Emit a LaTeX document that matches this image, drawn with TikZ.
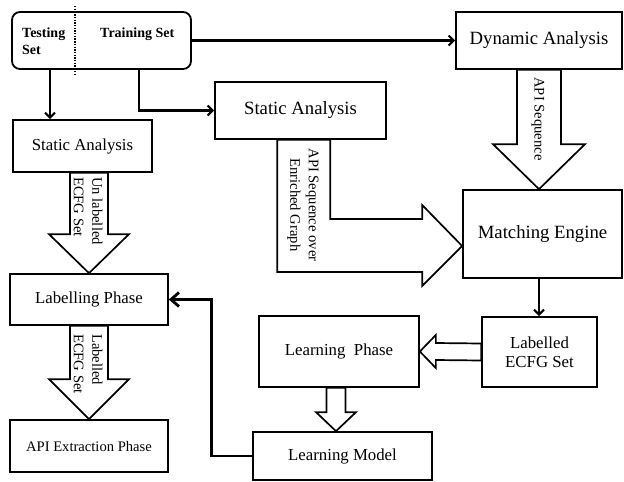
\documentclass[tikz,border=0pt]{standalone}
\usepackage{fontspec}
\setmainfont{Liberation Serif}
\usetikzlibrary{arrows.meta,calc}

\newcommand\fbig{\fontsize{18.7}{22}\selectfont}
\newcommand\fmid{\fontsize{16.8}{19.5}\selectfont}
\newcommand\fsml{\fontsize{14.6}{18.5}\selectfont}
\newcommand\fhead{\fontsize{14}{17}\selectfont\bfseries}

\begin{document}
\begin{tikzpicture}[x=1pt,y=-1pt,
  box/.style={draw, line width=1.7pt, inner sep=0pt, align=center, fill=white},
  arr/.style={-{Straight Barb[length=5pt,width=10pt]}, line width=2.1pt},
  fback/.style={-{Straight Barb[length=8pt,width=14pt]}, line width=2.8pt},
  fat/.style={draw, line width=1.7pt, fill=white, line join=miter},
  lbl/.style={inner sep=0pt, font=\fsml, rotate=-90}
]
\useasboundingbox (0,0) rectangle (624,482);

% data sets
\node[draw, line width=1.8pt, rounded corners=8pt, minimum width=179pt, minimum height=57pt, inner sep=0pt] (sets) at (101.5,40.5) {};
\node[anchor=base west, inner sep=0pt, font=\fhead, align=left] (testing) at (22,54) {Testing\\[0pt]Set};
\node[anchor=base west, inner sep=0pt, font=\fhead] (training) at (100,37) {Training Set};
\draw[line width=1.8pt, dash pattern=on 1.4pt off 1.3pt] (75,6) -- (75,75);

% processing boxes
\node[box, minimum width=139pt, minimum height=52pt, font=\fmid] (sa1) at (82.5,146) {Static Analysis};
\node[box, minimum width=171pt, minimum height=57pt, font=\fbig] (sa2) at (300.5,110.5) {Static Analysis};
\node[box, minimum width=166pt, minimum height=57pt, font=\fbig] (dyn) at (539,40.5) {Dynamic Analysis};
\node[box, minimum width=159pt, minimum height=88pt, font=\fbig] (me) at (542.5,234) {Matching Engine};
\node[box, minimum width=115pt, minimum height=70pt, font=\fmid] (lab) at (539.5,352) {Labelled\\[-1pt]ECFG Set};
\node[box, minimum width=160pt, minimum height=71pt, font=\fmid] (lp) at (339,351.5) {Learning\ \ Phase};
\node[box, minimum width=179pt, minimum height=48pt, font=\fmid] (lm) at (342.5,456) {Learning Model};
\node[box, minimum width=158pt, minimum height=51pt, font=\fmid] (lph) at (89,299.5) {Labelling Phase};
\node[box, minimum width=158pt, minimum height=52pt, font=\fsml] (api) at (89,446) {API Extraction Phase};

% thin connectors
\coordinate (c1) at (50,0);
\coordinate (c2) at (139,0);
\coordinate (c3) at (539,0);
\draw[arr] (sets.south -| c1) -- (sa1.north -| c1);
\draw[arr] (sets.south -| c2) |- (sa2.west);
\draw[arr] (sets.east) -- (dyn.west);
\draw[arr] (me.south -| c3) -- (lab.north -| c3);
\draw[fback] (lm.west) -| ($(lph.east)+(43,0)$) -- (lph.east);

% block arrow: dynamic analysis -> matching engine
\coordinate (t1) at (me.north -| dyn.south);
\draw[fat] ($(dyn.south)+(-22,0)$) -- ($(t1)+(-22,-45)$) -- ($(t1)+(-46,-45)$) -- (t1)
  -- ($(t1)+(46,-45)$) -- ($(t1)+(22,-45)$) -- ($(dyn.south)+(22,0)$) -- cycle;
\node[lbl] (apiseq) at (538,119) {API Sequence};

% block arrow: static analysis -> labelling phase
\coordinate (t2) at (lph.north);
\draw[fat] ($(sa1.south -| t2)+(-19,0)$) -- ($(t2)+(-19,-39)$) -- ($(t2)+(-40,-39)$) -- (t2)
  -- ($(t2)+(40,-39)$) -- ($(t2)+(19,-39)$) -- ($(sa1.south -| t2)+(19,0)$) -- cycle;
\node[lbl, align=left] (unlab) at (88,211) {Un labelled\\ECFG Set};

% block arrow: labelling phase -> API extraction
\coordinate (t3) at (api.north);
\draw[fat] ($(lph.south)+(-19,0)$) -- ($(t3)+(-19,-40)$) -- ($(t3)+(-40,-40)$) -- (t3)
  -- ($(t3)+(40,-40)$) -- ($(t3)+(19,-40)$) -- ($(lph.south)+(19,0)$) -- cycle;
\node[lbl, align=left] (labset) at (88,364) {Labelled\\ECFG Set};

% block arrow: labelled set -> learning phase
\coordinate (t4) at (lp.east);
\draw[fat] ($(lab.west)+(0,-8.5)$) -- ($(t4)+(16,-8.5)$) -- ($(t4)+(16,-16.5)$) -- (t4)
  -- ($(t4)+(16,16.5)$) -- ($(t4)+(16,8.5)$) -- ($(lab.west)+(0,8.5)$) -- cycle;

% block arrow: learning phase -> learning model
\coordinate (s5) at ($(lp.south)+(-3,0)$);
\coordinate (t5) at (lm.north -| s5);
\draw[fat] ($(s5)+(-9.5,0)$) -- ($(t5)+(-9.5,-19)$) -- ($(t5)+(-20,-19)$) -- (t5)
  -- ($(t5)+(20,-19)$) -- ($(t5)+(9.5,-19)$) -- ($(s5)+(9.5,0)$) -- cycle;

% bent block arrow: static analysis -> matching engine
\coordinate (T) at ($(me.west)+(0,12)$);
\coordinate (o) at ($(sa2.south west)+(63,0)$);
\coordinate (i) at ($(sa2.south west)+(116,0)$);
\coordinate (hb) at ($(T)+(-40,0)$);
\coordinate (lo) at ($(T)+(0,26)$);
\coordinate (up) at ($(T)+(0,-27)$);
\coordinate (htop) at ($(T)+(-40,-41)$);
\coordinate (hbot) at ($(T)+(-40,40)$);
\draw[fat] (o) -- (o |- lo) -- (hb |- lo) -- (hbot) -- (T) -- (htop) -- (hb |- up)
  -- (i |- up) -- (i) -- cycle;
\node[lbl, align=center] (seqgraph) at (303,205) {API Sequence over\\Enriched Graph};

\end{tikzpicture}
\end{document}
